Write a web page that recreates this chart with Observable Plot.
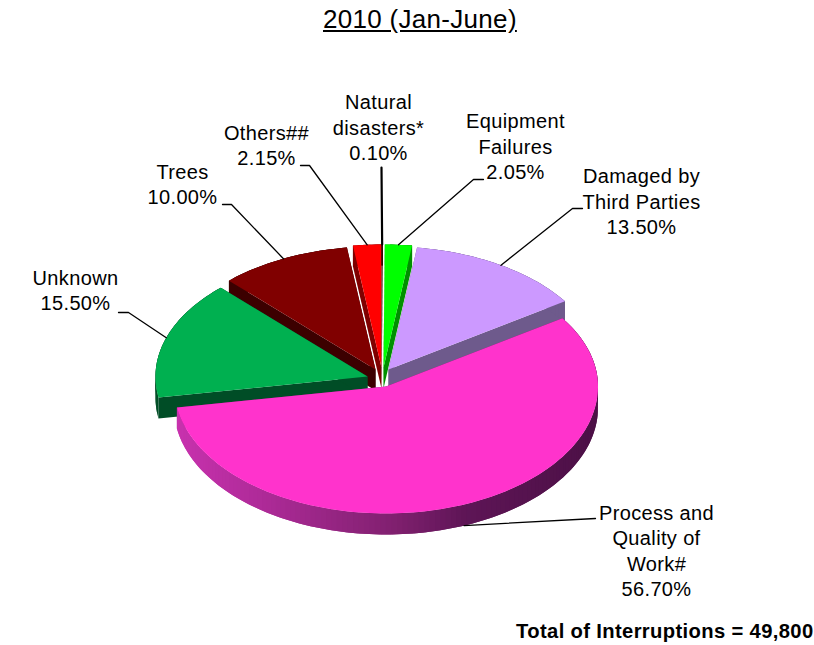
<!DOCTYPE html>
<html>
<head>
<meta charset="utf-8">
<script src="https://cdn.jsdelivr.net/npm/d3@7"></script>
<script src="https://cdn.jsdelivr.net/npm/@observablehq/plot@0.6"></script>
<style>
html,body{margin:0;padding:0;background:#fff;}
#title{height:40px;margin-left:323px;font:26px/39px "Liberation Sans",Arial,sans-serif;letter-spacing:0.3px;color:#000;text-decoration:underline;white-space:nowrap;}
svg{display:block;}
</style>
</head>
<body>
<div id="title">2010 (Jan-June)</div>
<div id="chart"></div>
<script>
// ---- data: clockwise from twelve o'clock
const names = ["Natural\ndisasters*", "Equipment\nFailures", "Damaged by\nThird Parties", "Process and\nQuality of\nWork#", "Unknown", "Trees", "Others##"];
const shares = [0.10, 2.05, 13.50, 56.70, 15.50, 10.00, 2.15];
const footer = "Total of Interruptions = 49,800";

// ---- styles and layout
const topColors  = ["#400000", "#00ff00", "#cc99ff", "#ff33cc", "#00b050", "#800000", "#ff0000"];
const sideColors = ["#200000", "#009000", "#6e5a8c", "#7a1a68", "#004d26", "#3c0000", "#800000"];
const apexX = [381, 383, 388, 385.5, 367, 375, 381];
const apexY = [367, 367, 369, 386, 376, 369, 367];
const paintOrder = [5, 6, 0, 1, 2, 4, 3];
const rx = 212, ryBack = 123, ryFront = 127, depth = 21;
const rimStops = [178, 260, 400, 470, 598];
const rimColors = ["#c832ae", "#b02b9a", "#80206f", "#5e1556", "#4c1046"];
const labelX = [378, 515, 641, 656, 75, 182, 266];
const labelY = [126, 145, 200, 549.5, 289, 183, 144];
const elbowX = [[381], [473, 483], [572, 582], [595], [128, 118], [231, 222], [309, 300]];
const elbowY = [[167], [179, 179], [208, 208], [518], [312, 312], [204, 204], [165, 165]];

// ---- geometry derived from the values
const total = d3.sum(shares);
const cum = d3.cumsum(shares);
const startAngle = i => (i === 0 ? 0 : cum[i - 1]) / total * 2 * Math.PI;
const endAngle = i => cum[i] / total * 2 * Math.PI;
const rimPoint = (i, a, drop = 0) => {
  const c = Math.cos(a);
  return [apexX[i] + rx * Math.sin(a), apexY[i] - (c > 0 ? ryBack : ryFront) * c + drop];
};
const rimColor = d3.scaleLinear().domain(rimStops).range(rimColors).clamp(true);

const polys = [];
let id = 0;
const addPoly = (pts, fill) => {
  const z = id++;
  for (const [x, y] of pts) polys.push({x, y, z, fill});
};
for (const i of paintOrder) {
  const a0 = startAngle(i), a1 = endAngle(i);
  const n = Math.max(2, Math.ceil((a1 - a0) / (Math.PI / 120)));
  const angles = d3.range(n + 1).map(k => a0 + (a1 - a0) * k / n);
  const apex = [apexX[i], apexY[i]];
  const apexLow = [apexX[i], apexY[i] + depth];
  // radial walls
  for (const a of [a0, a1]) {
    addPoly([apex, rimPoint(i, a), rimPoint(i, a, depth), apexLow], sideColors[i]);
  }
  // outer rim: each quad overlaps the next so no seams show
  for (let k = n - 1; k >= 0; k--) {
    const p = rimPoint(i, angles[k]), q = rimPoint(i, angles[k + 1]);
    const far = angles[Math.min(k + 2, n)];
    const fill = i === 3 ? rimColor((p[0] + q[0]) / 2) : sideColors[i];
    addPoly([p, q, rimPoint(i, far), rimPoint(i, far, depth), rimPoint(i, angles[k + 1], depth), rimPoint(i, angles[k], depth)], fill);
  }
  // top face
  addPoly([apex, ...angles.map(a => rimPoint(i, a))], topColors[i]);
}

// ---- leaders, from each slice's mid-angle out to its elbow
const leaders = [];
names.forEach((_, i) => {
  const mid = (startAngle(i) + endAngle(i)) / 2;
  const drop = i === 3 ? depth : 0;
  const [x0, y0] = rimPoint(i, mid, drop);
  leaders.push({x: x0, y: y0, i});
  elbowX[i].forEach((x, k) => leaders.push({x, y: elbowY[i][k], i}));
});

const labels = names.map((name, i) => ({
  x: labelX[i], y: labelY[i],
  text: name + "\n" + shares[i].toFixed(2) + "%"
}));

const font = '"Liberation Sans",Arial,sans-serif';
const svg = Plot.plot({
  width: 814,
  height: 605,
  margin: 0,
  x: {domain: [0, 814], range: [0, 814], axis: null},
  y: {domain: [40, 645], range: [0, 605], axis: null},
  color: {type: "identity"},
  style: {fontFamily: font, background: "#fff", color: "#000", letterSpacing: "0.36px"},
  marks: [
    Plot.line(polys, {x: "x", y: "y", z: "z", fill: "fill", strokeWidth: 0, curve: "linear"}),
    Plot.line(leaders, {x: "x", y: "y", z: "i", stroke: "#000", strokeWidth: d => d.i === 0 ? 2.2 : 1.3, curve: "linear"}),
    Plot.text(labels, {x: "x", y: "y", text: "text", fontSize: 20, lineHeight: 1.27, fill: "#000", textAnchor: "middle", lineAnchor: "middle"}),
    Plot.text([footer], {x: () => 813, y: () => 631, text: d => d, fontSize: 20.2, fontWeight: "bold", fill: "#000", textAnchor: "end", lineAnchor: "middle"})
  ]
});
document.getElementById("chart").appendChild(svg);
</script>
</body>
</html>
